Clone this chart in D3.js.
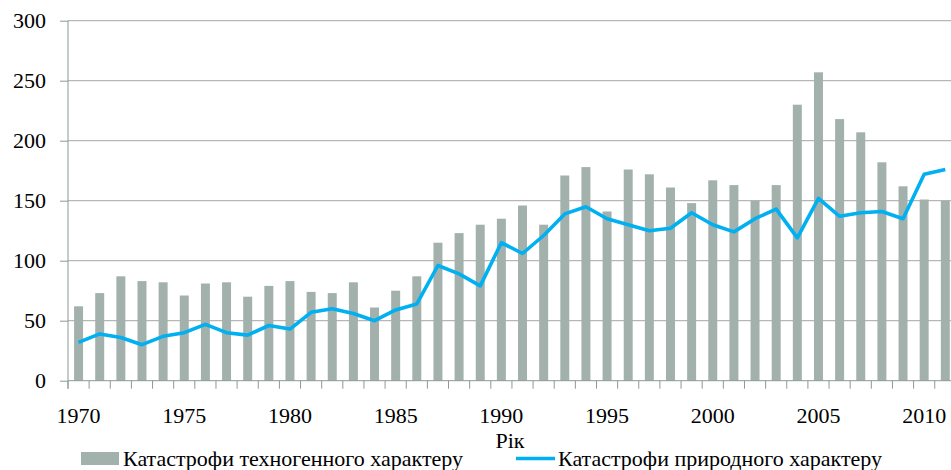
<!DOCTYPE html>
<html><head><meta charset="utf-8">
<script src="https://cdn.jsdelivr.net/npm/d3@7"></script>
</head><body style="margin:0">
<svg id="chart" width="951" height="470"></svg>
<script>
const years = d3.range(1970, 2012);
const techno = [62,73,87,83,82,71,81,82,70,79,83,74,73,82,61,75,87,115,123,130,135,146,130,171,178,141,176,172,161,148,167,163,150,163,230,257,218,207,182,162,151,150];
const natural = [32,39,36,30,37,40,47,40,38,46,43,57,60,56,50,59,64,96,89,79,115,106,121,139,145,135,130,125,127,140,130,124,135,143,119,152,137,140,141,135,172,176];
const yTicks = [0,50,100,150,200,250,300];
const xLabels = [1970,1975,1980,1985,1990,1995,2000,2005,2010];
const xTitle = "Рік";
const seriesNames = ["Катастрофи техногенного характеру","Катастрофи природного характеру"];

const svg = d3.select("#chart");
const FF = '"Liberation Serif", "Times New Roman", Tinos, serif';
const mLeft = 68, mBottom = 380.7, mTop = 20.7;
const x = d3.scaleBand().domain(years).range([mLeft, mLeft + 42*21.14]).paddingInner(0.575).paddingOuter(0.2875);
const y = d3.scaleLinear().domain([0,300]).range([mBottom, mTop]);

function serif(sel){ return sel.style("font-family", FF, "important").style("font-size", "22px", "important").style("fill", "#000"); }

svg.append("g").selectAll("line").data(yTicks.filter(d=>d>0)).join("line")
  .attr("x1", mLeft).attr("x2", 951).attr("y1", d=>y(d)).attr("y2", d=>y(d))
  .attr("stroke", "#a6a6a6").attr("stroke-width", 1);

svg.append("g").selectAll("rect").data(years).join("rect")
  .attr("x", d=>x(d)).attr("width", x.bandwidth())
  .attr("y", (d,i)=>y(techno[i])).attr("height", (d,i)=>mBottom - y(techno[i]))
  .attr("fill", "#a3b1ad");

const line = d3.line().x((d,i)=>x(years[i]) + x.bandwidth()/2).y(d=>y(d));
svg.append("path").datum(natural).attr("d", line)
  .attr("fill","none").attr("stroke","#00b0f0").attr("stroke-width",3.6).attr("stroke-linejoin","round");

const yAxis = d3.axisLeft(y).tickValues(yTicks).tickSize(8).tickPadding(14);
const gy = svg.append("g").attr("transform", `translate(${mLeft},0)`).call(yAxis);
gy.attr("font-family", null).attr("font-size", null);
gy.select(".domain").attr("d", `M0,${mTop}V${mBottom+8}`).attr("stroke","#8a9a94");
gy.selectAll(".tick line").attr("stroke","#8a9a94");
serif(gy.selectAll("text"));

const gx = svg.append("g").attr("transform", `translate(0,${mBottom})`);
gx.append("line").attr("x1", mLeft).attr("x2", 951).attr("y1",0).attr("y2",0).attr("stroke","#8a9a94");
const step = x.step();
gx.selectAll("line.t").data(years).join("line").attr("class","t")
  .attr("x1", d=>x(d) - x.paddingInner()*step/2).attr("x2", d=>x(d) - x.paddingInner()*step/2)
  .attr("y1",0).attr("y2",8).attr("stroke","#8a9a94");
serif(gx.selectAll("text").data(xLabels).join("text")
  .attr("x", d=>x(d)+x.bandwidth()/2).attr("y", 42.5)
  .attr("text-anchor","middle").text(d=>d));

serif(svg.append("text").attr("x", 510).attr("y", 447.5).attr("text-anchor","middle").text(xTitle));

const lg = svg.append("g");
lg.append("rect").attr("x",81).attr("y",452).attr("width",38).attr("height",13).attr("fill","#a3b1ad");
serif(lg.append("text").attr("x",123).attr("y",466).text(seriesNames[0]));
lg.append("line").attr("x1",516).attr("x2",555).attr("y1",458.5).attr("y2",458.5).attr("stroke","#00b0f0").attr("stroke-width",3.6);
serif(lg.append("text").attr("x",558).attr("y",466).text(seriesNames[1]));
</script>
</body></html>
